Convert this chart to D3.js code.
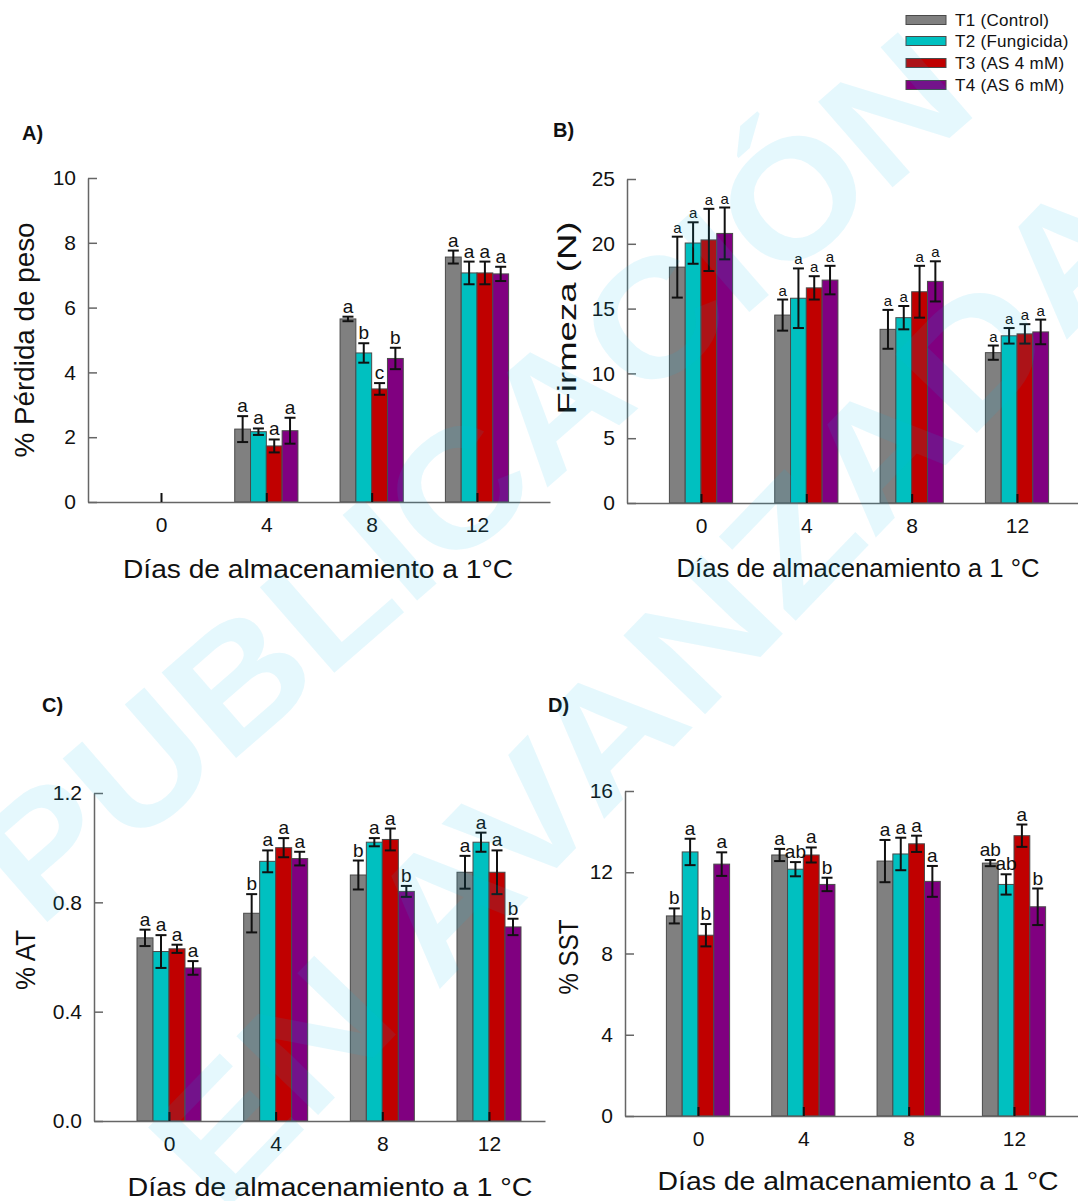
<!DOCTYPE html>
<html>
<head>
<meta charset="utf-8">
<script src="https://cdn.jsdelivr.net/npm/d3@7"></script>
<style>
  body { margin: 0; background: #fff; }
  svg { display: block; font-family: "Liberation Sans", Arial, sans-serif; }
</style>
</head>
<body>
<div id="chart"></div>
<script>
const days = [0, 4, 8, 12];
const treatments = ["T1 (Control)", "T2 (Fungicida)", "T3 (AS 4 mM)", "T4 (AS 6 mM)"];
const colors = ["#808080", "#00c0c0", "#c00000", "#800080"];

// A) % pérdida de peso  (rows = T1..T4, columns = days)
const pesoMean = [[0, 2.25, 5.65, 7.56], [0, 2.17, 4.60, 7.07], [0, 1.73, 3.49, 7.07], [0, 2.20, 4.43, 7.04]];
const pesoErr = [[0, 0.40, 0.07, 0.20], [0, 0.10, 0.30, 0.35], [0, 0.20, 0.18, 0.35], [0, 0.40, 0.33, 0.22]];
const pesoLetters = [["", "a", "a", "a"], ["", "a", "b", "a"], ["", "a", "c", "a"], ["", "a", "b", "a"]];
const pesoTicks = [0, 2, 4, 6, 8, 10];

// B) Firmeza (N)
const firmezaMean = [[18.2, 14.5, 13.4, 11.6], [20.06, 15.8, 14.3, 12.9], [20.3, 16.6, 16.3, 13.05], [20.8, 17.2, 17.1, 13.2]];
const firmezaErr = [[2.35, 1.2, 1.5, 0.55], [1.6, 2.3, 0.9, 0.6], [2.4, 0.9, 2.0, 0.75], [2.0, 1.1, 1.55, 0.95]];
const firmezaLetters = [["a", "a", "a", "a"], ["a", "a", "a", "a"], ["a", "a", "a", "a"], ["a", "a", "a", "a"]];
const firmezaTicks = [0, 5, 10, 15, 20, 25];

// C) % AT
const atMean = [[0.67, 0.76, 0.90, 0.91], [0.62, 0.95, 1.02, 1.02], [0.63, 1.00, 1.03, 0.91], [0.56, 0.96, 0.84, 0.71]];
const atErr = [[0.03, 0.07, 0.053, 0.06], [0.06, 0.04, 0.015, 0.035], [0.015, 0.035, 0.04, 0.08], [0.025, 0.025, 0.02, 0.03]];
const atLetters = [["a", "b", "b", "a"], ["a", "a", "a", "a"], ["a", "a", "a", "a"], ["a", "a", "b", "b"]];
const atTicks = [0, 0.4, 0.8, 1.2];

// D) % SST
const sstMean = [[9.85, 12.85, 12.55, 12.45], [13.0, 12.15, 12.9, 11.4], [8.9, 12.85, 13.4, 13.8], [12.4, 11.4, 11.55, 10.3]];
const sstErr = [[0.37, 0.3, 1.04, 0.15], [0.65, 0.35, 0.8, 0.5], [0.55, 0.37, 0.4, 0.55], [0.58, 0.33, 0.76, 0.9]];
const sstLetters = [["b", "a", "a", "ab"], ["a", "ab", "a", "ab"], ["b", "a", "a", "a"], ["a", "b", "a", "b"]];
const sstTicks = [0, 4, 8, 12, 16];

const barW = 0.6; // in day units

const width = 1078, height = 1201;
const svg = d3.select("#chart").append("svg")
    .attr("width", width)
    .attr("height", height);

const panels = [
    {
        tag: "A)", tagX: 22, tagY: 140,
        mean: pesoMean, err: pesoErr, letters: pesoLetters, ticks: pesoTicks, yMax: 10, fmt: d3.format("d"),
        x0: 161, x12: 477, left: 88, right: 550, top: 178, bottom: 502,
        letterSize: 19,
        yTitle: "% Pérdida de peso", yTitleX: 34, yTitleY: 340, yTitleLen: 235, yTitleSize: 27,
        xTitle: "Días de almacenamiento a 1°C", xTitleX: 318, xTitleY: 578, xTitleLen: 390, xTitleSize: 26
    },
    {
        tag: "B)", tagX: 553, tagY: 137,
        mean: firmezaMean, err: firmezaErr, letters: firmezaLetters, ticks: firmezaTicks, yMax: 25, fmt: d3.format("d"),
        x0: 701, x12: 1017, left: 627, right: 1078, top: 179, bottom: 503,
        letterSize: 15,
        yTitle: "Firmeza (N)", yTitleX: 576, yTitleY: 318, yTitleLen: 193, yTitleSize: 26,
        xTitle: "Días de almacenamiento a 1 °C", xTitleX: 858, xTitleY: 577, xTitleLen: 363, xTitleSize: 25
    },
    {
        tag: "C)", tagX: 42, tagY: 712,
        mean: atMean, err: atErr, letters: atLetters, ticks: atTicks, yMax: 1.2, fmt: d3.format(".1f"),
        x0: 169, x12: 489, left: 94, right: 545, top: 793, bottom: 1121,
        letterSize: 19,
        yTitle: "% AT", yTitleX: 35, yTitleY: 960, yTitleLen: 60, yTitleSize: 27,
        xTitle: "Días de almacenamiento a 1 °C", xTitleX: 330, xTitleY: 1196, xTitleLen: 405, xTitleSize: 26
    },
    {
        tag: "D)", tagX: 548, tagY: 712,
        mean: sstMean, err: sstErr, letters: sstLetters, ticks: sstTicks, yMax: 16, fmt: d3.format("d"),
        x0: 698, x12: 1014, left: 625, right: 1078, top: 791, bottom: 1116,
        letterSize: 19,
        yTitle: "% SST", yTitleX: 578, yTitleY: 957, yTitleLen: 75, yTitleSize: 27,
        xTitle: "Días de almacenamiento a 1 °C", xTitleX: 858, xTitleY: 1190, xTitleLen: 401, xTitleSize: 26
    }
];

const drawPanel = (p) => {
    const base = d3.scaleLinear().domain([0, 12]).range([p.x0, p.x12]);
    const x = d3.scaleLinear()
        .domain([base.invert(p.left), base.invert(p.right)])
        .range([p.left, p.right]);
    const y = d3.scaleLinear().domain([0, p.yMax]).range([p.bottom, p.top]);

    const rows = [];
    days.forEach((d, di) => {
        treatments.forEach((t, ti) => {
            rows.push({ day: d, ti: ti, v: p.mean[ti][di], e: p.err[ti][di], l: p.letters[ti][di] });
        });
    });
    const shown = rows.filter(r => r.v > 0);
    const bx = r => x(r.day + (r.ti - 2) * barW);
    const bw = x(barW) - x(0);

    const g = svg.append("g");

    g.selectAll("rect.bar")
        .data(shown)
        .join("rect")
        .attr("class", "bar")
        .attr("x", bx)
        .attr("y", r => y(r.v))
        .attr("width", bw)
        .attr("height", r => y(0) - y(r.v))
        .attr("fill", r => colors[r.ti])
        .attr("stroke", "#4a4a4a")
        .attr("stroke-width", 1);

    const eb = g.selectAll("g.err")
        .data(shown)
        .join("g")
        .attr("class", "err")
        .attr("stroke", "#111")
        .attr("stroke-width", 2);
    eb.append("line")
        .attr("x1", r => bx(r) + bw / 2).attr("x2", r => bx(r) + bw / 2)
        .attr("y1", r => y(r.v + r.e)).attr("y2", r => y(r.v - r.e));
    eb.append("line")
        .attr("x1", r => bx(r) + bw / 2 - 5.5).attr("x2", r => bx(r) + bw / 2 + 5.5)
        .attr("y1", r => y(r.v + r.e)).attr("y2", r => y(r.v + r.e));
    eb.append("line")
        .attr("x1", r => bx(r) + bw / 2 - 5.5).attr("x2", r => bx(r) + bw / 2 + 5.5)
        .attr("y1", r => y(r.v - r.e)).attr("y2", r => y(r.v - r.e));

    g.selectAll("text.letter")
        .data(shown.filter(r => r.l))
        .join("text")
        .attr("class", "letter")
        .attr("x", r => bx(r) + bw / 2)
        .attr("y", r => y(r.v + r.e) - 4)
        .attr("text-anchor", "middle")
        .attr("font-size", p.letterSize)
        .attr("fill", "#111")
        .text(r => r.l);

    const yAxis = g.append("g")
        .attr("transform", "translate(" + p.left + ",0)")
        .call(d3.axisLeft(y).tickValues(p.ticks).tickFormat(p.fmt)
            .tickSizeInner(-9).tickSizeOuter(0).tickPadding(12));
    const xAxis = g.append("g")
        .attr("transform", "translate(0," + p.bottom + ")")
        .call(d3.axisBottom(x).tickValues(days).tickFormat(d3.format("d"))
            .tickSizeInner(-9).tickSizeOuter(0).tickPadding(15));

    [yAxis, xAxis].forEach(a => {
        a.select(".domain").attr("stroke", "#666").attr("stroke-width", 1.5);
        a.selectAll(".tick text").attr("font-size", 21).attr("fill", "#111")
            .attr("font-family", "\"Liberation Sans\", Arial, sans-serif");
    });
    yAxis.selectAll(".tick line").attr("stroke", "#666").attr("stroke-width", 1.5);
    xAxis.selectAll(".tick line").attr("stroke", "#111").attr("stroke-width", 2);

    svg.append("text")
        .attr("x", p.tagX).attr("y", p.tagY)
        .attr("font-size", 20).attr("font-weight", "bold").attr("fill", "#111")
        .text(p.tag);

    svg.append("text")
        .attr("transform", "translate(" + p.yTitleX + "," + p.yTitleY + ") rotate(-90)")
        .attr("text-anchor", "middle")
        .attr("font-size", p.yTitleSize).attr("fill", "#111")
        .attr("textLength", p.yTitleLen).attr("lengthAdjust", "spacingAndGlyphs")
        .text(p.yTitle);

    svg.append("text")
        .attr("x", p.xTitleX).attr("y", p.xTitleY)
        .attr("text-anchor", "middle")
        .attr("font-size", p.xTitleSize).attr("fill", "#111")
        .attr("textLength", p.xTitleLen).attr("lengthAdjust", "spacingAndGlyphs")
        .text(p.xTitle);
};

panels.forEach(drawPanel);

// legend
const legend = svg.append("g").attr("transform", "translate(906,0)");
const legendRows = [20, 41, 63, 85];
legend.selectAll("rect")
    .data(treatments)
    .join("rect")
    .attr("x", 0).attr("y", (d, i) => legendRows[i] - 4.5)
    .attr("width", 40).attr("height", 9)
    .attr("fill", (d, i) => colors[i])
    .attr("stroke", "#4a4a4a").attr("stroke-width", 1);
legend.selectAll("text")
    .data(treatments)
    .join("text")
    .attr("x", 49).attr("y", (d, i) => legendRows[i])
    .attr("dy", "0.35em")
    .attr("font-size", 17).attr("letter-spacing", 0.3).attr("fill", "#111")
    .text(d => d);

// watermark
const wm = svg.append("g")
    .attr("fill", "rgb(0,190,240)")
    .attr("fill-opacity", 0.1)
    .attr("font-weight", "bold")
    .attr("font-size", 165)
    .attr("pointer-events", "none");
wm.append("text")
    .attr("transform", "translate(510,520) rotate(-41)")
    .attr("text-anchor", "middle")
    .attr("textLength", 1250).attr("lengthAdjust", "spacingAndGlyphs")
    .text("PUBLICACIÓN");
wm.append("text")
    .attr("transform", "translate(690,730) rotate(-46)")
    .attr("text-anchor", "middle")
    .attr("textLength", 1350).attr("lengthAdjust", "spacingAndGlyphs")
    .text("EN AVANZADA");
</script>
</body>
</html>
